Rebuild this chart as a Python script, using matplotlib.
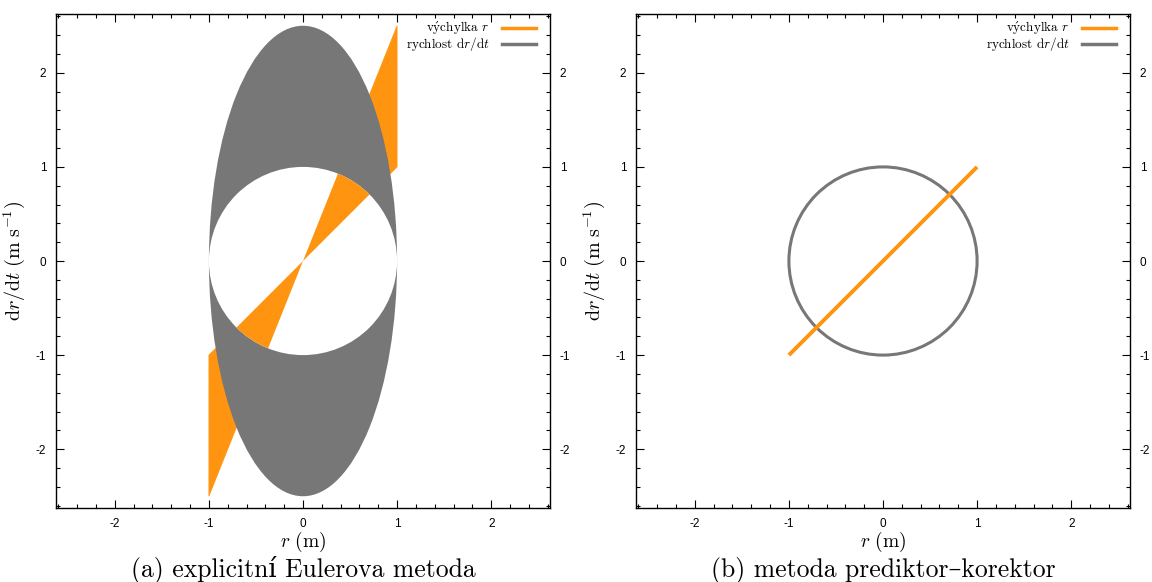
import matplotlib
matplotlib.use('Agg')
import matplotlib.pyplot as plt
from matplotlib.patches import Ellipse, Circle, Polygon
from matplotlib.ticker import MultipleLocator

# explicit Euler: phase band (velocity) and displacement fan
euler_r_amp = 1.0          # horizontal half-width of the velocity band
euler_v_max = 2.5          # outer half-height of the velocity band
euler_v_min = 1.0          # inner hole half-height
euler_fan_x = [0.0, 1.0, 1.0]
euler_fan_y = [0.0, 1.0, 2.5]

# predictor-corrector: closed orbit and displacement line
pc_radius = 1.0
pc_line_x = [-1.0, 1.0]
pc_line_y = [-1.0, 1.0]

ticks = [-2, -1, 0, 1, 2]
lim = 2.625

orange = '#ff9410'
gray = '#777777'

plt.rcParams['mathtext.fontset'] = 'cm'
plt.rcParams['axes.unicode_minus'] = False
serif = ['cmr10', 'DejaVu Serif']

fig = plt.figure(figsize=(11.52, 5.82), dpi=100)
ax1 = fig.add_axes([56/1152, 74/582, 494/1152, 494/582])
ax2 = fig.add_axes([636/1152, 74/582, 494/1152, 494/582])


def style(ax):
    ax.set_xlim(-lim, lim)
    ax.set_ylim(-lim, lim)
    ax.set_xticks(ticks)
    ax.set_yticks(ticks)
    ax.xaxis.set_minor_locator(MultipleLocator(0.2))
    ax.yaxis.set_minor_locator(MultipleLocator(0.2))
    ax.tick_params(which='both', direction='in', top=True, right=True,
                   labelright=True, labelsize=8.5, width=0.8)
    ax.tick_params(which='major', length=6, pad=7)
    ax.tick_params(which='minor', length=3)
    for lab in ax.get_xticklabels() + ax.get_yticklabels():
        lab.set_family('Liberation Sans')
    ax.set_xlabel(r'$r\ (\mathrm{m})$', fontsize=14, labelpad=0)
    ax.set_ylabel(r'$\mathrm{d}r/\mathrm{d}t\ (\mathrm{m\;s^{-1}})$',
                  fontsize=14.5)
    ax.yaxis.set_label_coords(-0.058, 0.5)
    for s in ax.spines.values():
        s.set_linewidth(1.0)


# left panel
for sgn in (1, -1):
    ax1.add_patch(Polygon(list(zip([sgn*x for x in euler_fan_x],
                                   [sgn*y for y in euler_fan_y])),
                          closed=True, fc=orange, ec=orange, lw=0.5, zorder=1))
ax1.add_patch(Ellipse((0, 0), 2*euler_r_amp, 2*euler_v_max, fc=gray, ec='none', zorder=2))
hole = Circle((0, 0), euler_v_min, fc='white', ec='none', zorder=3)
ax1.add_patch(hole)
for sgn in (1, -1):
    p = Polygon(list(zip([sgn*x for x in euler_fan_x], [sgn*y for y in euler_fan_y])),
                closed=True, fc=orange, ec='none', zorder=4)
    ax1.add_patch(p)
    p.set_clip_path(hole)
ax1.plot([], [], color=orange, lw=2.5, label=r'v$\acute{\mathrm{y}}$chylka $r$')
ax1.plot([], [], color=gray, lw=2.5, label=r'rychlost d$r$/d$t$')

# right panel
ax2.add_patch(Circle((0, 0), pc_radius, fc='none', ec=gray, lw=2.2, zorder=2))
ax2.plot(pc_line_x, pc_line_y, color=orange, lw=2.8, solid_capstyle='butt', zorder=3)
ax2.plot([], [], color=orange, lw=2.5, label=r'v$\acute{\mathrm{y}}$chylka $r$')
ax2.plot([], [], color=gray, lw=2.5, label=r'rychlost d$r$/d$t$')

for ax in (ax1, ax2):
    style(ax)
    leg = ax.legend(loc='upper right', frameon=False, markerfirst=False,
                    handlelength=2.6, handletextpad=0.9,
                    labelspacing=-0.15, borderaxespad=0, borderpad=0,
                    bbox_to_anchor=(480/494, 1 - 6/494),
                    prop={'family': serif, 'size': 9.5})
    for t in leg.get_texts():
        t.set_ha('right')

fig.text(303/1152, 1 - 570/582, '(a) explicitní Eulerova metoda',
         ha='center', va='center', fontsize=18.5, family=serif)
fig.text(883/1152, 1 - 570/582, '(b) metoda prediktor–korektor',
         ha='center', va='center', fontsize=18.5, family=serif)

fig.savefig('out.png', dpi=100)
